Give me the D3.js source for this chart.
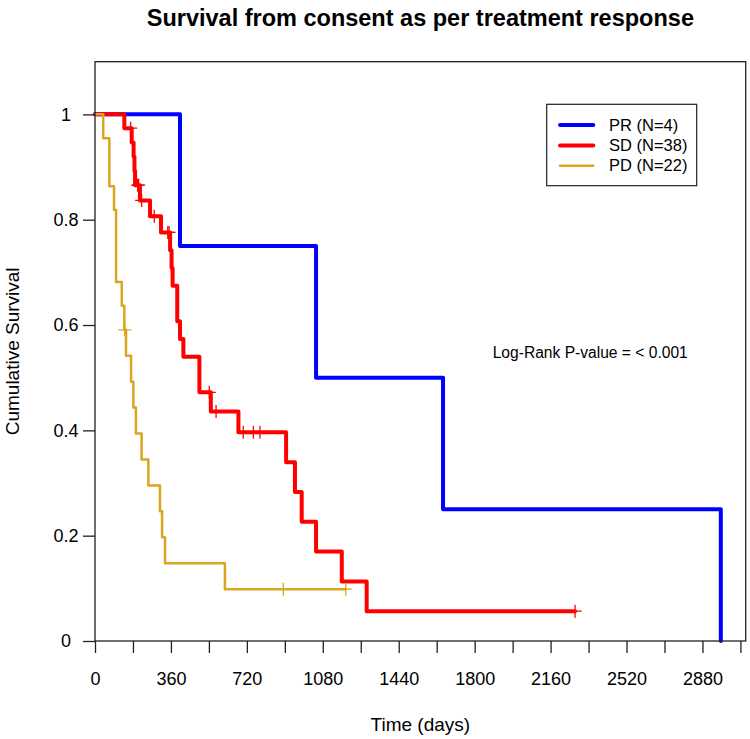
<!DOCTYPE html>
<html>
<head>
<meta charset="utf-8">
<script src="https://cdn.jsdelivr.net/npm/d3@7"></script>
<style>
  html, body { margin: 0; padding: 0; background: #fff; }
  svg { display: block; font-family: "Liberation Sans", Arial, sans-serif; }
</style>
</head>
<body>
<svg id="chart" width="750" height="739"></svg>
<script>
// ---------------- data ----------------
const groups = ["PR (N=4)", "SD (N=38)", "PD (N=22)"];
const groupColors = ["#0000FF", "#FF0000", "#DAA520"];

// follow-up time in days and status (1 = event, 0 = censored)
const prTimes   = [403, 1048, 1650, 2967];
const prStatus  = [1, 1, 1, 1];

const sdTimes   = [139, 169, 174, 183, 187, 190, 202, 207, 213, 221, 261, 281, 313, 345, 351,
                   356, 363, 368, 390, 390, 403, 419, 495, 495, 542, 549, 574, 680, 703, 751,
                   782, 906, 948, 980, 1048, 1170, 1288, 2276];
const sdStatus  = [1, 0, 1, 1, 1, 1, 0, 0, 1, 0, 1, 0, 1, 0, 0,
                   1, 1, 1, 1, 1, 1, 1, 1, 1, 0, 1, 0, 1, 0, 0,
                   0, 1, 1, 1, 1, 1, 1, 0];

const pdTimes   = [39, 68, 68, 90, 100, 100, 100, 127, 139, 141, 147, 171, 182, 194, 221,
                   253, 308, 318, 332, 616, 893, 1189];
const pdStatus  = [1, 1, 1, 1, 1, 1, 1, 1, 1, 0, 1, 1, 1, 1, 1,
                   1, 1, 1, 1, 1, 0, 0];

const xTickValues = [0, 180, 360, 540, 720, 900, 1080, 1260, 1440, 1620, 1800, 1980, 2160, 2340, 2520, 2700, 2880, 3060];
const xTickLabels = [0, 360, 720, 1080, 1440, 1800, 2160, 2520, 2880];
const yTickValues = [0, 0.2, 0.4, 0.6, 0.8, 1];
const yTickLabels = ["0", "0.2", "0.4", "0.6", "0.8", "1"];

const titleText = "Survival from consent as per treatment response";
const xTitle = "Time (days)";
const yTitle = "Cumulative Survival";
const pvalueText = "Log-Rank P-value = < 0.001";

// ---------------- Kaplan–Meier ----------------
function kaplanMeier(times, status) {
  const idx = d3.range(times.length).sort((a, b) => times[a] - times[b] || status[b] - status[a]);
  let atRisk = times.length, s = 1;
  const steps = [[0, 1]];
  const censors = [];
  let i = 0;
  while (i < idx.length) {
    const t = times[idx[i]];
    let d = 0, c = 0;
    while (i < idx.length && times[idx[i]] === t) {
      if (status[idx[i]] === 1) d++; else c++;
      i++;
    }
    if (d > 0) { s = s * (atRisk - d) / atRisk; steps.push([t, s]); }
    if (c > 0) censors.push([t, s]);
    atRisk -= d + c;
  }
  const tmax = d3.max(times);
  if (steps[steps.length - 1][0] !== tmax) steps.push([tmax, s]);
  return { steps, censors };
}

const curves = [
  kaplanMeier(prTimes, prStatus),
  kaplanMeier(sdTimes, sdStatus),
  kaplanMeier(pdTimes, pdStatus)
];
const lineWidths = [4, 4, 2.5];

// ---------------- layout ----------------
const svg = d3.select("#chart");
const pLeft = 95, pRight = 745.7, pTop = 61.7, pBottom = 641;

const x = d3.scaleLinear().domain([0, 3085]).range([pLeft, pRight]);
const y = d3.scaleLinear().domain([0, 1.1]).range([pBottom, pTop]);

// title
svg.append("text")
  .attr("x", (pLeft + pRight) / 2).attr("y", 26)
  .attr("text-anchor", "middle")
  .style("font-weight", "bold").style("font-size", "23.5px")
  .text(titleText);

// curves (blue first, orange on top)
const line = d3.line().x(d => x(d[0])).y(d => y(d[1])).curve(d3.curveStepAfter);
curves.forEach((c, k) => {
  svg.append("path")
    .attr("d", line(c.steps))
    .attr("fill", "none")
    .attr("stroke", groupColors[k])
    .attr("stroke-width", lineWidths[k])
    .attr("stroke-linejoin", "round")
    .attr("stroke-linecap", "round");
  const cs = 6.5;
  svg.append("g").selectAll("path").data(c.censors).join("path")
    .attr("d", d => `M${x(d[0]) - cs},${y(d[1])}H${x(d[0]) + cs}M${x(d[0])},${y(d[1]) - cs}V${y(d[1]) + cs}`)
    .attr("stroke", groupColors[k])
    .attr("stroke-width", 1.3)
    .attr("fill", "none");
});

// box
svg.append("rect")
  .attr("x", pLeft).attr("y", pTop)
  .attr("width", pRight - pLeft).attr("height", pBottom - pTop)
  .attr("fill", "none").attr("stroke", "#222").attr("stroke-width", 1.3);

// x axis
const xAxis = d3.axisBottom(x)
  .tickValues(xTickValues)
  .tickSize(12)
  .tickPadding(19)
  .tickFormat(d => xTickLabels.includes(d) ? String(d) : "");
const gx = svg.append("g").attr("transform", `translate(0,${pBottom})`).call(xAxis);
gx.select(".domain").remove();
gx.selectAll(".tick line").attr("stroke", "#222").attr("stroke-width", 1.3);
gx.selectAll(".tick text").attr("fill", "#000")
  .style("font-size", "18px").style("font-family", "Liberation Sans, Arial, sans-serif");

// y axis
const yAxis = d3.axisLeft(y)
  .tickValues(yTickValues)
  .tickSize(12)
  .tickFormat((d, i) => yTickLabels[i]);
const gy = svg.append("g").attr("transform", `translate(${pLeft},0)`).call(yAxis);
gy.select(".domain").remove();
gy.selectAll(".tick line").attr("stroke", "#222").attr("stroke-width", 1.3);
gy.selectAll(".tick text").attr("fill", "#000")
  .attr("x", 66 - pLeft).attr("text-anchor", "middle")
  .style("font-size", "18px").style("font-family", "Liberation Sans, Arial, sans-serif");

// axis titles
svg.append("text")
  .attr("x", (pLeft + pRight) / 2).attr("y", 731)
  .attr("text-anchor", "middle").style("font-size", "19px")
  .text(xTitle);
svg.append("text")
  .attr("transform", `translate(19,${(pTop + pBottom) / 2}) rotate(-90)`)
  .attr("text-anchor", "middle").style("font-size", "19px")
  .text(yTitle);

// p-value
svg.append("text")
  .attr("x", 492.7).attr("y", 358)
  .style("font-size", "15.6px")
  .text(pvalueText);

// legend
const lg = svg.append("g");
lg.append("rect")
  .attr("x", 546.7).attr("y", 104.3).attr("width", 150).attr("height", 81.4)
  .attr("fill", "#fff").attr("stroke", "#222").attr("stroke-width", 1.2);
const legendY = [125, 145.5, 165.7];
groups.forEach((g, k) => {
  lg.append("line")
    .attr("x1", 560).attr("x2", 593.3)
    .attr("y1", legendY[k]).attr("y2", legendY[k])
    .attr("stroke", groupColors[k]).attr("stroke-width", lineWidths[k])
    .attr("stroke-linecap", "round");
  lg.append("text")
    .attr("x", 609).attr("y", legendY[k]).attr("dy", "0.35em")
    .style("font-size", "16.5px")
    .text(g);
});
</script>
</body>
</html>
